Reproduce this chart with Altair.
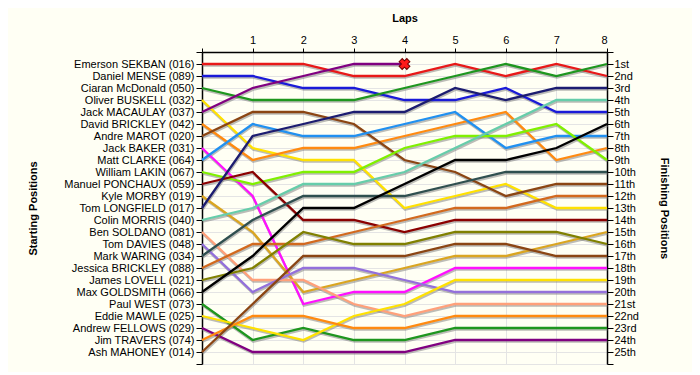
import json
import altair as alt
import pandas as pd

FONT = "Liberation Sans"

names = [
    "Emerson SEKBAN (016)", "Daniel MENSE (089)", "Ciaran McDonald (050)",
    "Oliver BUSKELL (032)", "Jack MACAULAY (037)", "David BRICKLEY (042)",
    "Andre MAROT (020)", "Jack BAKER (031)", "Matt CLARKE (064)",
    "William LAKIN (067)", "Manuel PONCHAUX (059)", "Kyle MORBY (019)",
    "Tom LONGFIELD (017)", "Colin MORRIS (040)", "Ben SOLDANO (081)",
    "Tom DAVIES (048)", "Mark WARING (034)", "Jessica BRICKLEY (088)",
    "James LOVELL (021)", "Max GOLDSMITH (066)", "Paul WEST (073)",
    "Eddie MAWLE (025)", "Andrew FELLOWS (029)", "Jim TRAVERS (074)",
    "Ash MAHONEY (014)",
]

colors = [
    "#e81818", "#1a1ad8", "#1e961e", "#ffe100", "#800080", "#ff8a10",
    "#8b4513", "#ff10ff", "#2090f0", "#80f000", "#8b0000", "#daa520",
    "#1c1c70", "#66cdaa", "#ffa07a", "#9370db", "#2f4f4f", "#d2691e",
    "#808000", "#000000", "#1e961e", "#ffe100", "#800080", "#ff8a10",
    "#8b4513",
]

# position of each driver at laps 0..8 (retired driver stops early)
positions = [
    [1, 1, 1, 2, 2, 1, 2, 1, 2],
    [2, 2, 3, 3, 4, 4, 3, 5, 5],
    [3, 4, 4, 4, 3, 2, 1, 2, 1],
    [4, 8, 9, 9, 13, 12, 11, 13, 13],
    [5, 3, 2, 1, 1],
    [6, 9, 8, 8, 7, 6, 5, 9, 8],
    [7, 5, 5, 6, 9, 10, 12, 11, 11],
    [8, 12, 21, 20, 20, 18, 18, 18, 18],
    [9, 6, 7, 7, 6, 5, 8, 7, 7],
    [10, 11, 10, 10, 8, 7, 7, 6, 9],
    [11, 10, 14, 14, 15, 14, 14, 14, 14],
    [12, 15, 20, 19, 18, 17, 17, 16, 15],
    [13, 7, 6, 5, 5, 3, 4, 3, 3],
    [14, 13, 11, 11, 10, 8, 6, 4, 4],
    [15, 19, 19, 21, 22, 21, 21, 21, 21],
    [16, 20, 18, 18, 19, 20, 20, 20, 20],
    [17, 14, 12, 12, 12, 11, 10, 10, 10],
    [18, 16, 16, 15, 14, 13, 13, 12, 12],
    [19, 18, 15, 16, 16, 15, 15, 15, 16],
    [20, 17, 13, 13, 11, 9, 9, 8, 6],
    [21, 24, 23, 24, 24, 23, 23, 23, 23],
    [22, 23, 24, 22, 21, 19, 19, 19, 19],
    [23, 25, 25, 25, 25, 24, 24, 24, 24],
    [24, 22, 22, 23, 23, 22, 22, 22, 22],
    [25, 21, 17, 17, 17, 16, 16, 17, 17],
]

finish_labels = [
    "1st", "2nd", "3rd", "4th", "5th", "6th", "7th", "8th", "9th", "10th",
    "11th", "12th", "13th", "14th", "15th", "16th", "17th", "18th", "19th",
    "20th", "21st", "22nd", "23rd", "24th", "25th",
]

lap_ticks = [0, 1, 2, 3, 4, 5, 6, 7, 8]
retired_index = 4

rows = []
for n, ps in zip(names, positions):
    for lap, p in enumerate(ps):
        rows.append({"driver": n, "lap": lap, "pos": p})
df = pd.DataFrame(rows)

ret_ps = positions[retired_index]
retired = pd.DataFrame([{"driver": names[retired_index],
                         "lap": len(ret_ps) - 1, "pos": ret_ps[-1]}])

n_pos = len(names)
yscale = alt.Scale(domain=[0, n_pos + 1], reverse=True, nice=False, zero=False)
xscale = alt.Scale(domain=[0, 8], nice=False, zero=False)
y_vals = list(range(0, n_pos + 2))

left_expr = ("datum.value >= 1 && datum.value <= %d ? %s[datum.value - 1] : ''"
             % (n_pos, json.dumps(names)))
right_expr = ("datum.value >= 1 && datum.value <= %d ? %s[datum.value - 1] : ''"
              % (n_pos, json.dumps(finish_labels)))

x_axis = alt.Axis(
    orient="top", values=lap_ticks,
    labelExpr="datum.value == 0 ? '' : datum.label",
    title="Laps", titleFontWeight="bold", titleFontSize=11, titleFont=FONT,
    titleColor="black", titleY=-31, titleBaseline="alphabetic",
    tickSize=4, labelPadding=3, labelFontSize=11, labelFont=FONT,
    labelColor="black", grid=True, gridColor="#e4e4e4",
    domainColor="black", domainWidth=1.5, tickColor="black",
)
left_axis = alt.Axis(
    orient="left", values=y_vals, labelExpr=left_expr,
    title="Starting Positions", titleFontWeight="bold", titleFontSize=11,
    titleFont=FONT, titleColor="black", titleAngle=-90, titleX=-166,
    titleY=156, titleBaseline="alphabetic", titleAlign="center",
    tickSize=6, labelPadding=2, labelFontSize=11, labelFont=FONT,
    labelColor="black", grid=True, gridColor="#e4e4e4",
    domainColor="black", domainWidth=1.5, tickColor="black", labelBound=False,
)
right_axis = alt.Axis(
    orient="right", values=y_vals, labelExpr=right_expr,
    title="Finishing Positions", titleFontWeight="bold", titleFontSize=11,
    titleFont=FONT, titleColor="black", titleAngle=90, titleX=53,
    titleY=156, titleBaseline="alphabetic", titleAlign="center",
    tickSize=6, labelPadding=1, labelFontSize=11, labelFont=FONT,
    labelColor="black", grid=False,
    domainColor="black", domainWidth=1.5, tickColor="black",
)

X = alt.X("lap:Q", scale=xscale, axis=x_axis)

shadow = alt.Chart(df).mark_line(
    color="#7a7a7a", opacity=0.5, strokeWidth=2.4, yOffset=1.6, xOffset=0.6
).encode(
    x=X,
    y=alt.Y("pos:Q", scale=yscale, axis=left_axis),
    detail="driver:N",
    order="lap:Q",
)

lines = alt.Chart(df).mark_line(strokeWidth=2.3).encode(
    x=X,
    y=alt.Y("pos:Q", scale=yscale, axis=None),
    color=alt.Color("driver:N", scale=alt.Scale(domain=names, range=colors),
                    legend=None),
    order="lap:Q",
)

marker = alt.Chart(retired).mark_point(
    shape="cross", angle=45, filled=True, size=120, fill="#ff1a1a",
    stroke="#700000", strokeWidth=1, opacity=1,
).encode(
    x=X,
    y=alt.Y("pos:Q", scale=yscale, axis=None),
)

right = alt.Chart(df).mark_line(opacity=0).encode(
    x=X,
    y=alt.Y("pos:Q", scale=yscale, axis=right_axis),
    detail="driver:N",
)

chart = alt.layer(shadow, lines, marker, right).resolve_scale(
    y="independent"
).properties(
    width=405, height=312, background="#fffff4",
    padding={"left": 194, "top": 44, "right": 85, "bottom": 8},
    autosize=alt.AutoSizeParams(type="none"),
).configure_view(stroke=None)

chart.save("out.html", embed_options={"renderer": "svg", "actions": False})
